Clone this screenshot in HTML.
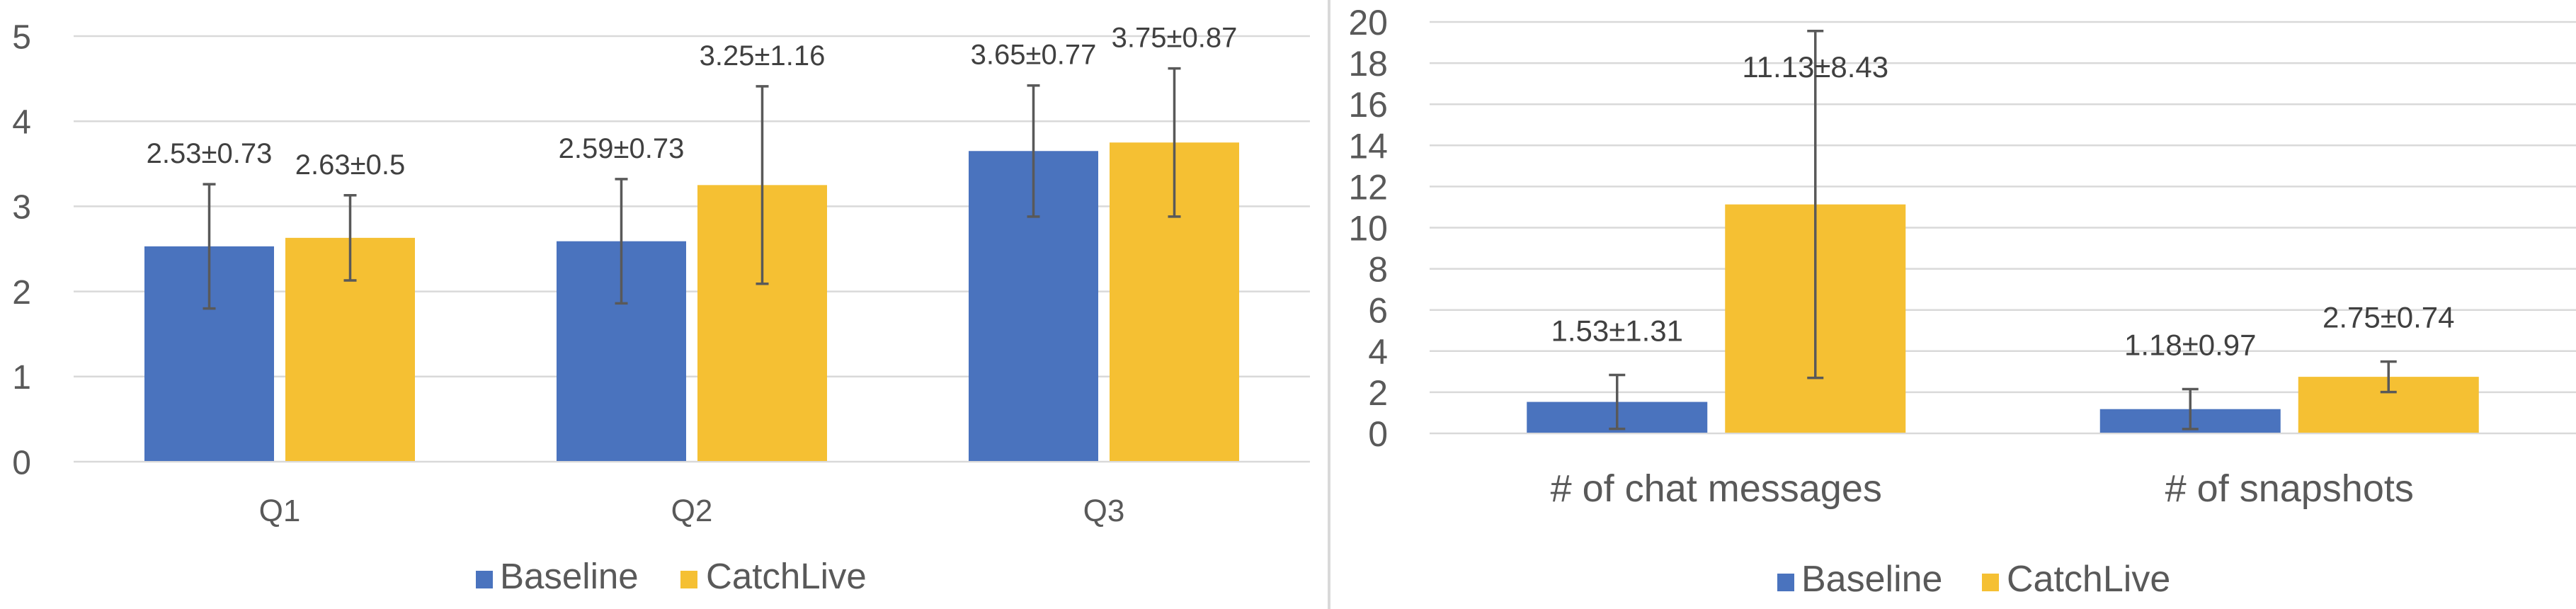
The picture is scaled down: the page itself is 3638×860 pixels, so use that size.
<!DOCTYPE html>
<html><head><meta charset="utf-8"><style>
html,body{margin:0;padding:0;background:#fff;}
svg{display:block;font-family:"Liberation Sans",Arial,sans-serif;}
</style></head><body>
<svg id="chart" width="3638" height="860" viewBox="0 0 3638 860" xmlns="http://www.w3.org/2000/svg">
<line x1="1877" y1="0" x2="1877" y2="860" stroke="#d9d9d9" stroke-width="4"/>
</svg>
<script>
// Left chart data
const leftCategories = ["Q1", "Q2", "Q3"];
const leftBaseline = [2.53, 2.59, 3.65];
const leftBaselineErr = [0.73, 0.73, 0.77];
const leftCatchLive = [2.63, 3.25, 3.75];
const leftCatchLiveErr = [0.5, 1.16, 0.87];
const leftTicks = [0, 1, 2, 3, 4, 5];
// Right chart data
const rightCategories = ["# of chat messages", "# of snapshots"];
const rightBaseline = [1.53, 1.18];
const rightBaselineErr = [1.31, 0.97];
const rightCatchLive = [11.13, 2.75];
const rightCatchLiveErr = [8.43, 0.74];
const rightTicks = [0, 2, 4, 6, 8, 10, 12, 14, 16, 18, 20];
const seriesNames = ["Baseline", "CatchLive"];

const NS = "http://www.w3.org/2000/svg";
const svg = document.getElementById("chart");
const COLORS = ["#4a73be", "#f5c033"];
function mk(tag, attrs, parent) {
  const e = document.createElementNS(NS, tag);
  for (const k in attrs) e.setAttribute(k, attrs[k]);
  (parent || svg).appendChild(e);
  return e;
}
function txt(s, attrs, parent) { const e = mk("text", attrs, parent); e.textContent = s; return e; }

function drawChart(cfg) {
  const g = mk("g", {});
  
  
  const yMax = cfg.ticks[cfg.ticks.length - 1];
  const y = v => cfg.y0 - (v / yMax) * (cfg.y0 - cfg.yTop);
  const band = (cfg.x1 - cfg.x0) / cfg.cats.length;
  // gridlines + tick labels
  cfg.ticks.forEach(t => {
    const l = mk("line", {x1: cfg.x0, x2: cfg.x1, y1: y(t), y2: y(t), stroke: "#d9d9d9", "stroke-width": 2.5}, g);
    
    
    const tl = txt(String(t), {x: cfg.tickX, y: y(t) + cfg.tickFont * 0.36, "text-anchor": "end", "font-size": cfg.tickFont, fill: "#595959"}, g);
    
    
  });
  const series = [[cfg.base, cfg.baseErr], [cfg.catchL, cfg.catchErr]];
  cfg.cats.forEach((c, i) => {
    const cx = cfg.x0 + band * (i + 0.5);
    series.forEach((s, si) => {
      const v = s[0][i], e = s[1][i];
      const bx = si === 0 ? cx - cfg.gap / 2 - cfg.barW : cx + cfg.gap / 2;
      const r = mk("rect", {x: bx, y: y(v), width: cfg.barW, height: cfg.y0 - 1 - y(v), fill: COLORS[si]}, g);
      
      
      const mx = bx + cfg.barW / 2;
      const hi = y(v + e), lo = y(Math.max(0, v - e));
      const eg = mk("g", {stroke: "#595959", "stroke-width": 3.5}, g);
      
      
      mk("line", {x1: mx, x2: mx, y1: hi, y2: lo}, eg);
      mk("line", {x1: mx - cfg.cap / 2, x2: mx + cfg.cap / 2, y1: hi, y2: hi}, eg);
      mk("line", {x1: mx - cfg.cap / 2, x2: mx + cfg.cap / 2, y1: lo, y2: lo}, eg);
      let ly = Math.max(hi - cfg.labelOff, cfg.minLabelY);
      const lab = txt(v + "\u00b1" + e, {x: mx, y: ly, "text-anchor": "middle", "font-size": cfg.valFont, fill: "#404040"}, g);
      
      
    });
    const cl = txt(c, {x: cx, y: cfg.catY, "text-anchor": "middle", "font-size": cfg.catFont, fill: "#595959"}, g);
    
    
  });
  // legend
  const lg = mk("g", {}, g);
  
  
  cfg.legend.forEach((lx, si) => {
    const sq = mk("rect", {x: lx[0], y: cfg.legY - 25, width: 24, height: 25, fill: COLORS[si]}, lg);
    
    
    const lt = txt(seriesNames[si], {x: lx[1], y: cfg.legY, "font-size": cfg.legFont, fill: "#595959"}, lg);
    
    
  });
}

drawChart({name: "left-chart", cats: leftCategories, base: leftBaseline, baseErr: leftBaselineErr,
  catchL: leftCatchLive, catchErr: leftCatchLiveErr, ticks: leftTicks,
  x0: 104, x1: 1850, y0: 652, yTop: 51, barW: 183, gap: 16, cap: 18,
  tickX: 44, tickFont: 48, valFont: 40, catFont: 44, catY: 736, labelOff: 30, minLabelY: 61,
  legY: 831, legFont: 51, legend: [[672, 706], [961, 997]]});

drawChart({name: "right-chart", cats: rightCategories, base: rightBaseline, baseErr: rightBaselineErr,
  catchL: rightCatchLive, catchErr: rightCatchLiveErr, ticks: rightTicks,
  x0: 2019, x1: 3638, y0: 612, yTop: 31, barW: 255, gap: 25, cap: 23,
  tickX: 1960, tickFont: 50, valFont: 42, catFont: 54, catY: 708, labelOff: 48, minLabelY: 109,
  legY: 835, legFont: 52, legend: [[2510, 2544], [2799, 2834]]});
</script>
</body></html>
